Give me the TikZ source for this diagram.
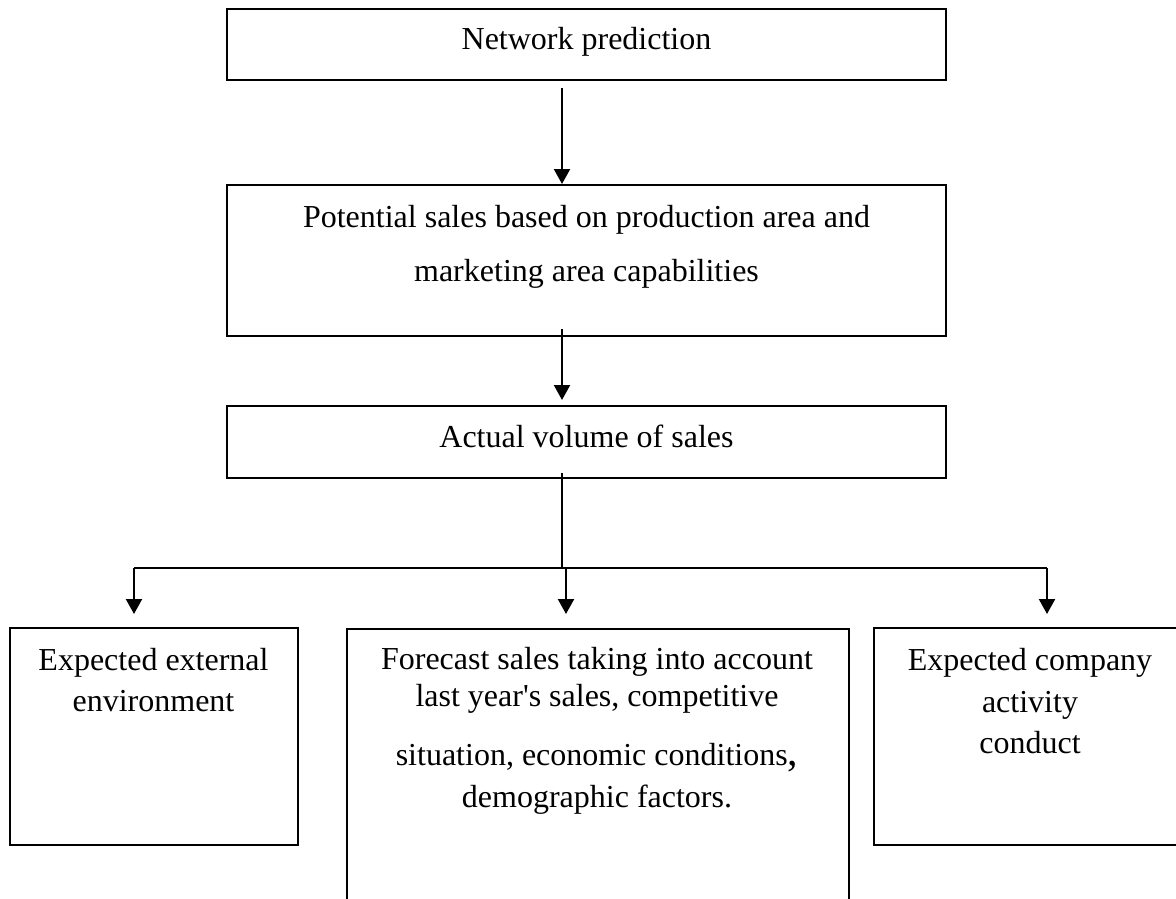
\documentclass[tikz,border=0pt]{standalone}
\usepackage{fontspec}
\setmainfont{Liberation Serif}
\usetikzlibrary{arrows.meta,calc}
\tikzset{
  box/.style={draw=black, line width=1.6pt, inner sep=0pt, outer sep=0pt, rectangle},
  txt/.style={anchor=base, inner sep=0pt, font=\fontsize{32}{36}\selectfont},
  arr/.style={line width=2.2pt, -{Triangle[width=16pt,length=15pt]}},
  ln/.style={line width=1.7pt},
  hln/.style={line width=2pt},
}
\begin{document}
\begin{tikzpicture}[x=1pt,y=-1pt]
\useasboundingbox (0,0) rectangle (1176,899);
\clip (0,0) rectangle (1176,899);
% boxes
\node[box, minimum width=719pt, minimum height=71pt] (n1) at (586.5,44.5) {};
\node[box, minimum width=719pt, minimum height=151pt] (n2) at (586.5,260.5) {};
\node[box, minimum width=719pt, minimum height=72pt] (n3) at (586.5,442) {};
\node[box, minimum width=288pt, minimum height=217pt] (b1) at (154,736.5) {};
\node[box, minimum width=502pt, minimum height=331pt] (b2) at (598,794.5) {};
\node[box, minimum width=386pt, minimum height=217pt] (b3) at (1067,736.5) {};
% texts
\node[txt] (t1) at (586.5,49.5) {Network prediction};
\node[txt] (t2a) at (586.5,227) {Potential sales based on production area and};
\node[txt] (t2b) at (586.5,281) {marketing area capabilities};
\node[txt] (t3) at (586.5,447) {Actual volume of sales};
\node[txt] (l1) at (153.5,670) {Expected external};
\node[txt] (l2) at (153.5,711) {environment};
\node[txt] (m1) at (597,669) {Forecast sales taking into account};
\node[txt] (m2) at (597,706) {last year\textquotesingle s sales, competitive};
\node[txt] (m3) at (597,765) {situation, economic conditions{\fontsize{42}{42}\selectfont,}};
\node[txt] (m4) at (597,807) {demographic factors.};
\node[txt] (r1) at (1030,670) {Expected company};
\node[txt] (r2) at (1030,712) {activity};
\node[txt] (r3) at (1030,753) {conduct};
% connectors
\draw[arr] ([xshift=-24.5pt,yshift=-8pt]n1.south) -- ([xshift=-24.5pt,yshift=1pt]n2.north);
\draw[arr] ([xshift=-24.5pt,yshift=7pt]n2.south) -- ([xshift=-24.5pt,yshift=6pt]n3.north);
\coordinate (hub) at (562,568);
\coordinate (hl) at (134,568);
\coordinate (hm) at (566,568);
\coordinate (hr) at (1047,568);
\draw[ln] ([xshift=-24.5pt,yshift=5pt]n3.south) -- (hub);
\draw[hln] (hl) -- (hr);
\draw[arr, shorten >=14pt] (hl) -- (hl |- b1.north);
\draw[arr, shorten >=15pt] (hm) -- (hm |- b2.north);
\draw[arr, shorten >=14pt] (hr) -- (hr |- b3.north);
\end{tikzpicture}
\end{document}
